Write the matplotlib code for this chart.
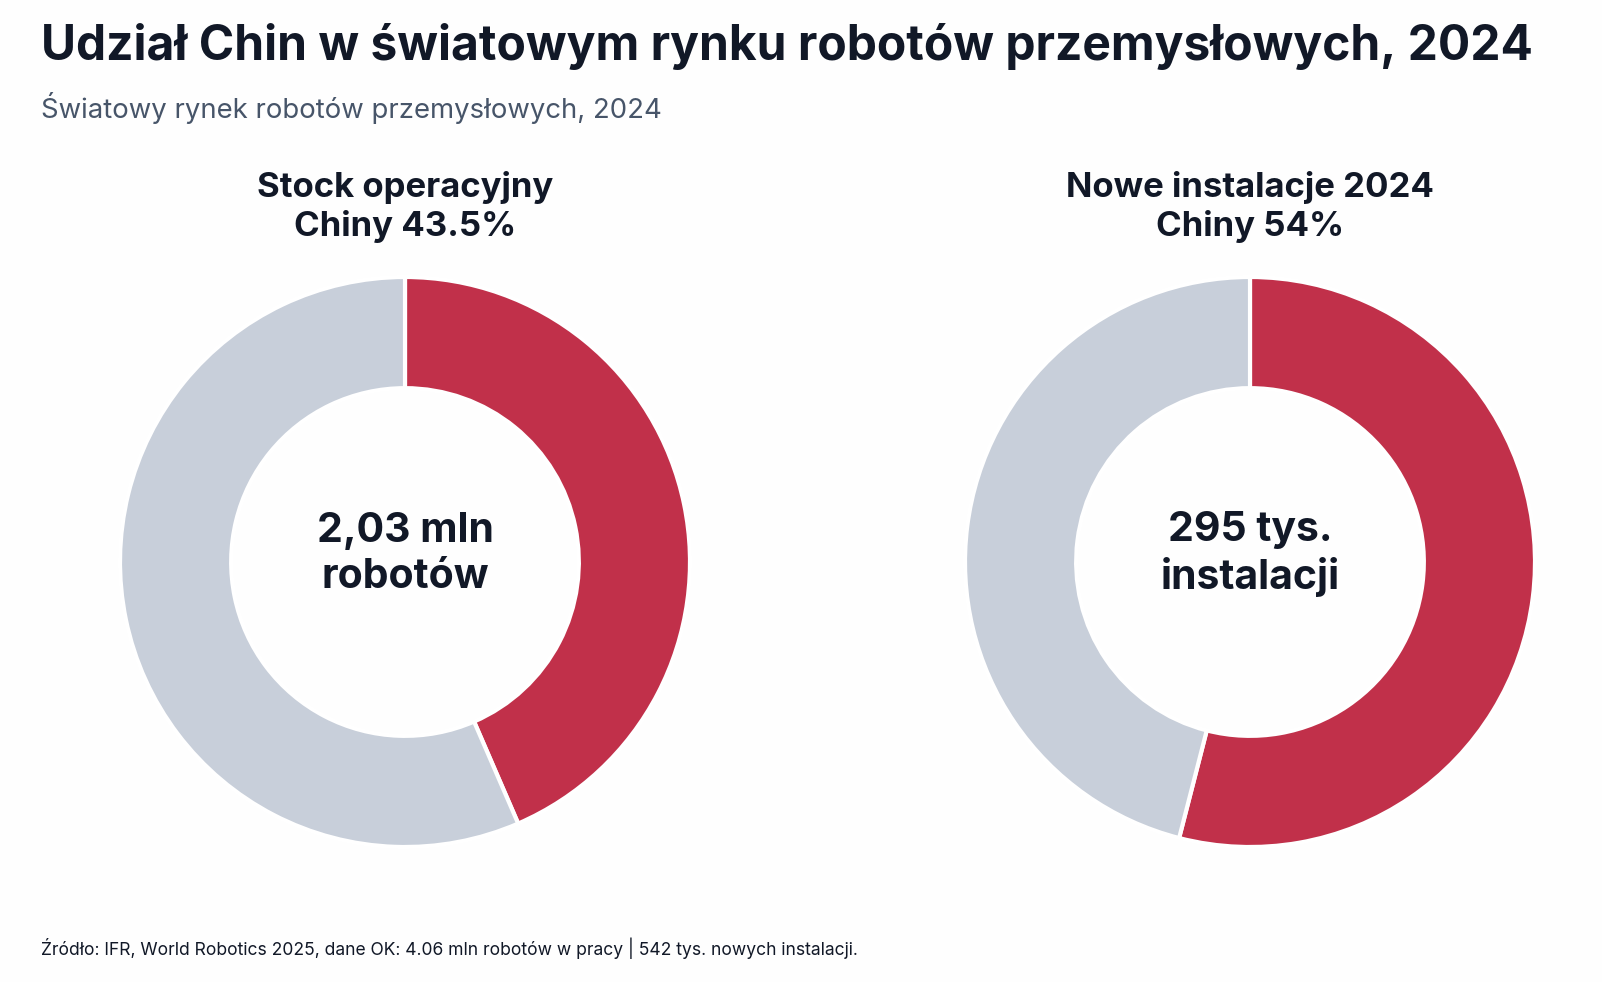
import numpy as np
import matplotlib
matplotlib.use("Agg")
import matplotlib.pyplot as plt

plt.rcParams['font.family'] = ['Inter', 'DejaVu Sans']

# data
segments = ['Chiny', 'Reszta świata']
stock_share = [43.5, 56.5]
install_share = [54.0, 46.0]
panel_titles = ['Stock operacyjny\nChiny 43.5%', 'Nowe instalacje 2024\nChiny 54%']
center_labels = ['2,03 mln\nrobotów', '295 tys.\ninstalacji']

title = 'Udział Chin w światowym rynku robotów przemysłowych, 2024'
subtitle = 'Światowy rynek robotów przemysłowych, 2024'
source = 'Źródło: IFR, World Robotics 2025, dane OK: 4.06 mln robotów w pracy | 542 tys. nowych instalacji.'

RED = '#c1304a'
GREY = '#c8cfda'
DARK = '#111827'
SLATE = '#475569'

W, H = 1602, 982
fig = plt.figure(figsize=(W / 100, H / 100), dpi=100)
fig.patch.set_facecolor('#fefefe')

R = 285  # donut outer radius in px
cy = 562
for i, (cx, shares) in enumerate([(405, stock_share), (1250, install_share)]):
    ax = fig.add_axes([(cx - R) / W, (H - cy - R) / H, 2 * R / W, 2 * R / H])
    ax.pie(shares, colors=[RED, GREY], startangle=90, counterclock=False,
           radius=1, wedgeprops=dict(width=0.39, edgecolor='white', linewidth=3))
    ax.set_xlim(-1, 1)
    ax.set_ylim(-1, 1)
    ax.set_aspect('equal')
    ax.axis('off')
    # centre label sits a touch above the ring centre
    ax.text(0, 0.028, center_labels[i], ha='center', va='center', fontsize=29.5,
            fontweight='bold', color=DARK, linespacing=1.27)
    fig.text(cx / W, 1 - 207 / H, panel_titles[i], ha='center', va='center',
             fontsize=25, fontweight='bold', color=DARK, linespacing=1.2)

fig.text(41 / W, 1 - 60 / H, title, ha='left', va='baseline', fontsize=34.5,
         fontweight='bold', color=DARK)
fig.text(41 / W, 1 - 118 / H, subtitle, ha='left', va='baseline', fontsize=19.8,
         color=SLATE)
fig.text(41 / W, 1 - 955 / H, source, ha='left', va='baseline', fontsize=12.6,
         color=DARK)

fig.savefig('out.png', dpi=100, facecolor=fig.get_facecolor())
